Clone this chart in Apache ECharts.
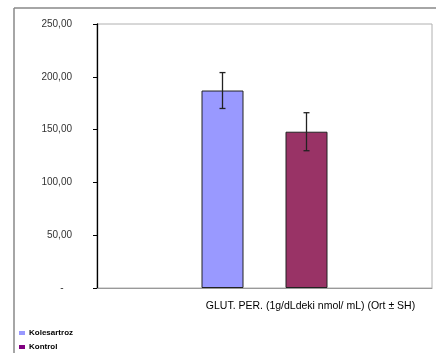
<!DOCTYPE html>
<html><head><meta charset="utf-8">
<script src="https://cdn.jsdelivr.net/npm/echarts@6/dist/echarts.min.js"></script>
<style>html,body{margin:0;padding:0;background:#fff}#c{width:436px;height:353px}</style>
</head><body><div id="c"></div>
<script>
const categories = ['GLUT. PER. (1g/dLdeki nmol/ mL) (Ort \u00B1 SH)'];
const seriesNames = ['Kolesartroz', 'Kontrol'];
const kolesartroz = [187];
const kontrol = [148];
const kolesartrozErr = [17];
const kontrolErr = [18];
const yTicks = [0, 50, 100, 150, 200, 250];

const chart = echarts.init(document.getElementById('c'));
function errSeries(vals, errs, idx) {
  return {
    type: 'custom', name: seriesNames[idx] + ' err', silent: true, z: 10,
    data: vals.map((v, i) => [i, v - errs[i], v + errs[i]]),
    renderItem: function (params, api) {
      const lo = api.coord([api.value(0), api.value(1)]);
      const hi = api.coord([api.value(0), api.value(2)]);
      const bw = 42, gap = 42;
      const off = (idx === 0 ? -1 : 1) * (bw + gap) / 2;
      const x = lo[0] + off;
      const h = 3;
      const st = { stroke: '#222', lineWidth: 1.3 };
      return { type: 'group', children: [
        { type: 'line', shape: { x1: x, y1: lo[1], x2: x, y2: hi[1] }, style: st },
        { type: 'line', shape: { x1: x - h, y1: lo[1], x2: x + h, y2: lo[1] }, style: st },
        { type: 'line', shape: { x1: x - h, y1: hi[1], x2: x + h, y2: hi[1] }, style: st }
      ]};
    }
  };
}
const legendColors = ['#9999FF', '#800080'];
function mkLegend(i, top) {
  return {
    orient: 'vertical', left: 14, top: top, itemWidth: 6, itemHeight: 4,
    icon: 'rect',
    itemStyle: { borderWidth: 0 },
    data: [{ name: seriesNames[i], itemStyle: { color: legendColors[i], borderWidth: 0 } }],
    textStyle: { fontSize: 8, fontWeight: 'bold', color: '#000', padding: [0, 0, 0, -1] }
  };
}
chart.setOption({
  animation: false,
  backgroundColor: '#fff',
  textStyle: { fontFamily: 'Liberation Sans, Arial, sans-serif' },
  grid: { left: 97, right: 4, top: 24, bottom: 65, show: true, borderColor: '#b0b0b0', borderWidth: 1 },
  legend: [mkLegend(0, 324), mkLegend(1, 338)],
  xAxis: {
    type: 'category', data: categories,
    axisLine: { show: true, lineStyle: { color: '#999', width: 1 } },
    axisTick: { show: false },
    axisLabel: { margin: 13, fontSize: 10.5, color: '#000', padding: [0, 0, 0, 92] }
  },
  yAxis: {
    type: 'value', min: yTicks[0], max: yTicks[yTicks.length - 1], interval: 50,
    axisLine: { show: true, lineStyle: { color: '#000', width: 1.3 } },
    axisTick: { show: true, inside: false, length: 4, lineStyle: { color: '#000' } },
    splitLine: { show: false },
    axisLabel: {
      margin: 25, fontSize: 10, color: '#333',
      formatter: v => v === 0 ? '-   ' : v.toFixed(2).replace('.', ',')
    }
  },
  graphic: [
    { type: 'line', shape: { x1: 14, y1: 8, x2: 436, y2: 8 }, style: { stroke: '#888', lineWidth: 1.5 } },
    { type: 'line', shape: { x1: 14, y1: 8, x2: 14, y2: 353 }, style: { stroke: '#888', lineWidth: 1.5 } }
  ],
  series: [
    { type: 'bar', name: seriesNames[0], data: kolesartroz, barWidth: 42, barGap: '100%',
      itemStyle: { color: '#9999FF', borderColor: '#222', borderWidth: 1 } },
    { type: 'bar', name: seriesNames[1], data: kontrol, barWidth: 42,
      itemStyle: { color: '#993366', borderColor: '#222', borderWidth: 1 } },
    errSeries(kolesartroz, kolesartrozErr, 0),
    errSeries(kontrol, kontrolErr, 1)
  ]
});
</script></body></html>
